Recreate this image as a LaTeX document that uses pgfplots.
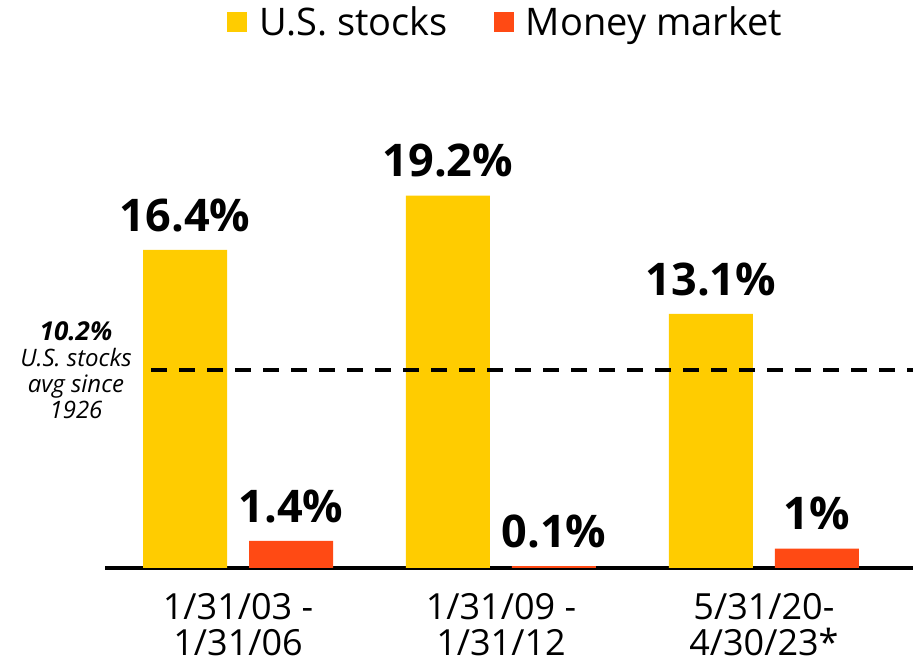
\documentclass[border=0pt]{standalone}
\usepackage{fontspec}
\setmainfont{Open Sans}
\usepackage{pgfplots}
\pgfplotsset{compat=1.18}
\definecolor{stockyellow}{HTML}{FFCC00}
\definecolor{mmred}{HTML}{FF4A14}

\begin{document}
\begin{tikzpicture}
\useasboundingbox (0pt,0pt) rectangle (916pt,663pt);
\begin{axis}[
    at={(105pt,95pt)}, anchor=south west,
    scale only axis, width=808pt, height=388pt,
    xmin=-0.506, xmax=2.567, ymin=0, ymax=20,
    ybar=22pt, bar width=84pt,
    /pgf/number format/assume math mode=true,
    axis y line=none,
    axis x line*=bottom,
    x axis line style={-, line width=3.5pt},
    xtick={0,1,2},
    xticklabels={{1/31/03 -\\1/31/06},{1/31/09 -\\1/31/12},{5/31/20-\\4/30/23*}},
    major tick length=0pt,
    xticklabel style={align=center, inner sep=0pt, yshift=-25pt,
        font=\fontsize{36}{36}\selectfont},
    clip=false,
    nodes near coords={\pgfmathprintnumber{\pgfplotspointmeta}\%},
    nodes near coords style={font=\bfseries\fontsize{45}{46}\selectfont,
        anchor=south, inner sep=0pt, yshift=18pt, text=black},
    legend columns=2,
    legend style={draw=none, fill=none, at={(0.496,1.407)}, anchor=center,
        font=\fontsize{38}{40}\selectfont,
        /tikz/every even column/.append style={column sep=44pt}},
    legend image code/.code={\fill[#1] (0pt,-10pt) rectangle (20pt,10pt);
        \path (30pt,0pt);},
]
\addplot[fill=stockyellow, draw=none] coordinates {(0,16.4) (1,19.2) (2,13.1)};
\addplot[fill=mmred, draw=none] coordinates {(0,1.4) (1,0.1) (2,1.0)};
\legend{U.S. stocks, Money market}
\draw[line width=4pt, dash pattern=on 16pt off 12pt]
    (axis cs:-0.33,10.2) -- (axis cs:2.567,10.2);
\node[align=center, font=\itshape\fontsize{24}{26}\selectfont]
    at (axis cs:-0.506,10.2) [xshift=-29pt]
    {{\bfseries\fontsize{26}{26}\selectfont 10.2\%}\\U.S. stocks\\avg since\\1926};
\end{axis}
\end{tikzpicture}
\end{document}
